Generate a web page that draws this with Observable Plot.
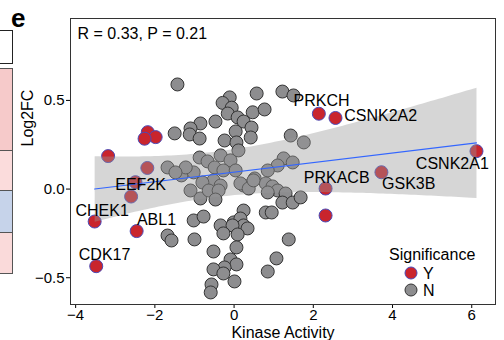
<!DOCTYPE html>
<html>
<head>
<meta charset="utf-8">
<script src="https://cdn.jsdelivr.net/npm/d3@7"></script>
<script src="https://cdn.jsdelivr.net/npm/@observablehq/plot@0.6"></script>
<style>
  html, body { margin: 0; padding: 0; background: white; }
  #wrap { position: relative; width: 504px; height: 340px; overflow: hidden; font-family: "Liberation Sans", Arial, sans-serif; }
  #wrap svg { position: absolute; left: 0; top: 0; }
  .cell { position: absolute; box-sizing: border-box; }
</style>
</head>
<body>
<div id="wrap"></div>
<script>
// Significant kinases (Significance = "Y")
const sigKinase = [-3.48, -3.52, -2.46, -2.60, -2.49, -2.19, -3.18, -2.18, -1.98, -2.26, 2.14, 2.56, 2.31, 2.31, 3.72, 6.12];
const sigLog2FC = [-0.435, -0.183, -0.237, -0.042, 0.039, 0.119, 0.186, 0.321, 0.293, 0.284, 0.425, 0.401, 0.003, -0.149, 0.095, 0.214];

// Non-significant kinases (Significance = "N")
const nsKinase = [-1.43, -0.11, -0.29, -0.06, 0.57, 1.22, 1.50, 0.47, 0.77, -0.16, 0.09, 0.24, -0.85, -0.47, -1.10, -1.50, -1.12, -0.87, -0.24, 0.04, 0.06, 0.44, 0.42, 1.43, 1.76,
  -0.87, -0.67, -1.68, -1.33, -1.02, -1.22, -0.34, -0.09, -0.49, -0.27, -0.52, -0.80, -0.34, -1.48, 1.25, 1.48, 1.10, 0.85, 0.52, 0.04, 0.24, 0.80, 0.97, 0.11,
  -1.10, -0.85, -0.64, -0.39, -0.47, 0.16, 0.37, 0.49, 1.10, 1.30, 1.22, 1.48, 1.68, 0.85, 0.24, 0.80, 0.95, -1.02, -0.77, -0.01, 0.16, 0.24, -0.34, -0.04, 0.34,
  -0.27, 0.09, -1.68, -1.58, -1.00, 1.38, -0.52, 0.06, -0.09, 1.07, 0.06, -0.24, -0.52, -0.27, 0.85, 0.01, -0.57, -0.59];
const nsLog2FC = [0.590, 0.517, 0.486, 0.459, 0.539, 0.550, 0.528, 0.433, 0.449, 0.426, 0.404, 0.381, 0.370, 0.381, 0.342, 0.314, 0.308, 0.285, 0.274, 0.325, 0.263, 0.347, 0.291, 0.302, 0.263,
  0.178, 0.156, 0.122, 0.077, 0.094, 0.122, 0.190, 0.162, 0.122, 0.105, 0.049, 0.037, 0.020, 0.094, 0.173, 0.150, 0.133, 0.105, 0.060, 0.105, 0.020, 0.032, 0.015, 0.218,
  -0.008, -0.053, -0.008, -0.008, -0.059, 0.032, 0.003, 0.049, -0.008, -0.025, -0.076, -0.076, -0.047, -0.019, -0.121, -0.132, -0.132, -0.177, -0.155, -0.188, -0.166, -0.205, -0.205, -0.205, -0.222,
  -0.250, -0.256, -0.262, -0.290, -0.284, -0.284, -0.352, -0.329, -0.397, -0.391, -0.425, -0.442, -0.453, -0.476, -0.465, -0.521, -0.538, -0.583];

// Gene labels (positions in data units)
const labelNames = ["PRKCH", "CSNK2A2", "CSNK2A1", "GSK3B", "PRKACB", "EEF2K", "CHEK1", "ABL1", "CDK17"];
const labelX = [2.21, 3.70, 5.51, 4.41, 2.59, -2.36, -3.33, -1.96, -3.27];
const labelY = [0.50, 0.415, 0.144, 0.032, 0.065, 0.026, -0.121, -0.171, -0.369];

const xTicks = [-4, -2, 0, 2, 4, 6];
const yTicks = [-0.5, 0.0, 0.5];
const statText = "R = 0.33, P = 0.21";
const legendTitle = "Significance";
const legendKeys = ["Y", "N"];

const RED = "#c9252d", RED_STROKE = "#4a4ab8", GREY = "#8d8d8f", GREY_STROKE = "#333333";

const sig = sigKinase.map((x, i) => ({x, y: sigLog2FC[i]}));
const ns = nsKinase.map((x, i) => ({x, y: nsLog2FC[i]}));
const labels = labelNames.map((t, i) => ({t, x: labelX[i], y: labelY[i]}));

const chart = Plot.plot({
  width: 504, height: 340,
  marginLeft: 70, marginRight: 9, marginTop: 18, marginBottom: 36,
  style: {fontFamily: "'Liberation Sans', Arial, sans-serif", fontSize: "15px", color: "#000", background: "transparent"},
  x: {domain: [-4.13, 6.60], ticks: xTicks, label: null, tickSize: 4, tickPadding: 1},
  y: {domain: [-0.651, 0.962], ticks: yTicks, tickFormat: d3.format(".1f"), label: null, tickSize: 4, tickPadding: 2},
  marks: [
    Plot.dot(ns, {x: "x", y: "y", r: 6.5, fill: GREY, stroke: GREY_STROKE, strokeWidth: 1}),
    Plot.dot(sig, {x: "x", y: "y", r: 6.5, fill: RED, stroke: RED_STROKE, strokeWidth: 1}),
    Plot.linearRegressionY(sig, {x: "x", y: "y", stroke: "#3366FF", strokeWidth: 1.2, fill: "#999999", fillOpacity: 0.4, ci: 0.95}),
    Plot.text(labels, {x: "x", y: "y", text: "t", fontSize: 16, fill: "#000"}),
    Plot.text([statText], {frameAnchor: "top-left", dx: 7, dy: 15.5, textAnchor: "start", lineAnchor: "middle", fontSize: 16}),
    Plot.text(["Kinase Activity"], {frameAnchor: "bottom", dy: 28.5, lineAnchor: "middle", fontSize: 16}),
    Plot.text(["Log2FC"], {frameAnchor: "left", rotate: -90, dx: -43, dy: -15, lineAnchor: "middle", fontSize: 16}),
    Plot.frame({stroke: "#333", strokeWidth: 1})
  ]
});

const wrap = document.getElementById("wrap");

// left-edge fragments of the neighbouring panel
const cells = [
  {top: 30, h: 34, bg: "#ffffff", border: "#222"},
  {top: 68, h: 83, bg: "#f6caca", border: "#555"},
  {top: 150, h: 41, bg: "#fbdcdc", border: "#555"},
  {top: 190, h: 43, bg: "#c6d3ea", border: "#555"},
  {top: 232, h: 42, bg: "#fadada", border: "#555"}
];
for (const c of cells) {
  const d = document.createElement("div");
  d.className = "cell";
  Object.assign(d.style, {left: "-3px", top: c.top + "px", width: "16px", height: c.h + "px", background: c.bg, border: "1px solid " + c.border});
  wrap.appendChild(d);
}

wrap.appendChild(chart);

// panel letter and legend overlay
const ov = d3.create("svg").attr("width", 504).attr("height", 340)
  .style("font-family", "'Liberation Sans', Arial, sans-serif");
ov.append("text").attr("x", 11).attr("y", 27).attr("font-size", 26).attr("font-weight", "bold").text("e");
const lg = ov.append("g");
lg.append("text").attr("x", 389).attr("y", 254).attr("dy", "0.35em").attr("font-size", 16).text(legendTitle);
legendKeys.forEach((k, i) => {
  const cy = 273 + i * 17;
  lg.append("circle").attr("cx", 411).attr("cy", cy).attr("r", 6)
    .attr("fill", k === "Y" ? RED : GREY).attr("stroke", k === "Y" ? RED_STROKE : GREY_STROKE);
  lg.append("text").attr("x", 423).attr("y", cy).attr("dy", "0.35em").attr("font-size", 16).text(k);
});
wrap.appendChild(ov.node());
</script>
</body>
</html>
